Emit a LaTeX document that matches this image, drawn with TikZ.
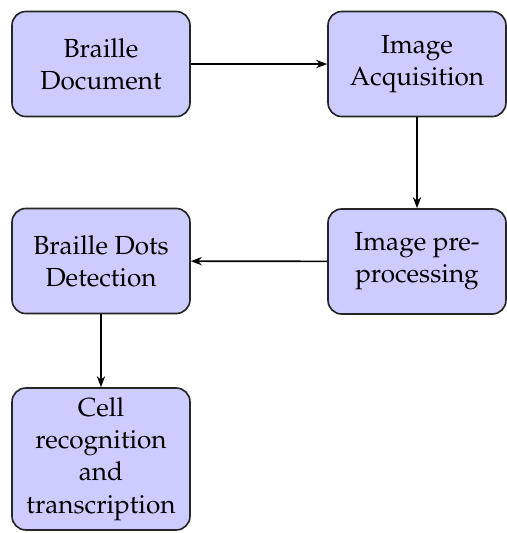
\documentclass[tikz,border=0pt]{standalone}
\usepackage[T1]{fontenc}
\usepackage{mathpazo}
\usetikzlibrary{arrows.meta}
\definecolor{boxfill}{RGB}{204,204,255}
\tikzset{
  stepbox/.style={draw=black!85, fill=boxfill, rounded corners=5pt, line width=0.6pt,
    minimum width=64.7pt, minimum height=38.2pt, align=center, inner sep=2pt,
    font=\fontsize{9.5}{11.7}\selectfont},
  flow/.style={line width=0.6pt, -{Stealth[length=4pt,width=3pt]}}
}
\begin{document}
\begin{tikzpicture}[x=0.3636pt, y=-0.3636pt]
\useasboundingbox (0,0) rectangle (507,533);
\node[stepbox] (doc) at (101,64) {Braille\\Document};
\node[stepbox] (acq) at (417,64) {Image\\Acquisition};
\node[stepbox] (pre) at (417,261.5) {Image pre-\\processing};
\node[stepbox] (dots) at (101,261) {Braille Dots\\Detection};
\node[stepbox, minimum height=51.6pt] (cell) at (101,459) {Cell\\recognition\\and\\transcription};
\draw[flow] (doc) -- (acq);
\draw[flow] (acq) -- (pre);
\draw[flow] (pre) -- (dots);
\draw[flow] (dots) -- (cell);
\end{tikzpicture}
\end{document}
